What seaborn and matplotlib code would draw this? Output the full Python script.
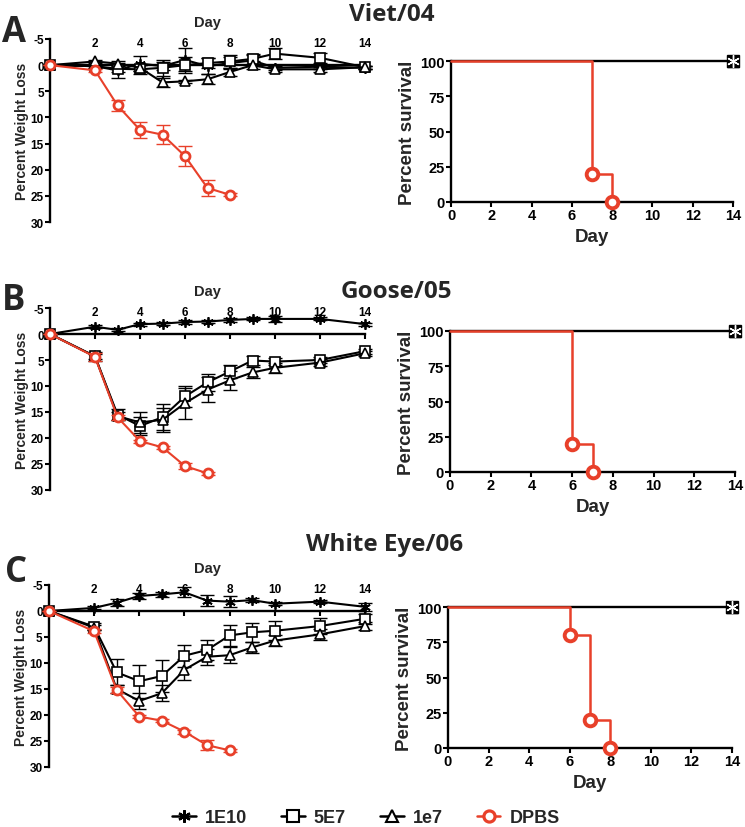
#!/usr/bin/env python3
"""Weight loss and survival after challenge, three virus strains."""

import matplotlib
matplotlib.use("Agg")
import matplotlib.pyplot as plt
from matplotlib.lines import Line2D
import seaborn as sns

sns.set_theme(style="ticks")
plt.rcParams["font.family"] = ["Liberation Sans", "DejaVu Sans"]
plt.rcParams["font.weight"] = "bold"
plt.rcParams["axes.labelweight"] = "bold"
plt.rcParams["axes.unicode_minus"] = False

RED = "#E8402A"
GROUPS = ["1E10", "5E7", "1e7", "DPBS"]
STRAINS = ["Viet/04", "Goose/05", "White Eye/06"]
PANEL_LETTERS = ["A", "B", "C"]

days = [0, 2, 3, 4, 5, 6, 7, 8, 9, 10, 12, 14]

# --- weight loss (percent), mean and error ---
viet_1e10 = [0, 0.2, 1.0, -0.3, 0.2, -1.0, 0.2, -0.4, -0.9, 0.5, 0.3, 0.5]
viet_1e10_err = [0, 0.3, 1.5, 1.4, 0.8, 2.2, 1.5, 1.2, 1.0, 0.4, 0.4, 0.3]
viet_5e7 = [0, 0.2, 0.7, 0.8, 0.5, 0.0, -0.4, -0.7, -1.2, -2.2, -1.4, 0.4]
viet_5e7_err = [0, 0.3, 0.6, 0.8, 1.5, 1.5, 1.0, 1.2, 1.0, 1.0, 1.0, 0.3]
viet_1e7 = [0, -0.7, -0.3, 0.5, 3.3, 3.1, 2.7, 1.3, 0.0, 0.8, 0.8, 0.4]
viet_1e7_err = [0, 0.3, 0.5, 0.6, 0.8, 0.3, 1.0, 0.8, 0.8, 0.5, 0.5, 0.3]
viet_dpbs = [0, 1.0, 7.7, 12.4, 13.3, 17.4, 23.5, 24.8]
viet_dpbs_err = [0, 0.3, 1.0, 1.6, 1.8, 1.9, 1.5, 0.3]

goose_1e10 = [0, -1.4, -0.8, -1.9, -2.0, -2.3, -2.4, -2.7, -2.9, -2.9, -2.9, -1.9]
goose_1e10_err = [0, 0.3, 0.3, 0.3, 0.3, 0.3, 0.3, 0.3, 0.3, 0.5, 0.3, 0.3]
goose_5e7 = [0, 4.3, 15.5, 17.7, 16.0, 12.0, 9.3, 7.2, 5.1, 5.3, 5.0, 3.3]
goose_5e7_err = [0, 0.8, 1.0, 1.8, 2.5, 2.0, 1.6, 1.3, 0.8, 0.7, 0.5, 0.5]
goose_1e7 = [0, 4.3, 15.8, 17.0, 16.5, 13.3, 10.7, 8.9, 7.4, 6.5, 5.5, 3.7]
goose_1e7_err = [0, 0.5, 0.8, 2.0, 2.3, 3.0, 2.4, 1.8, 1.0, 1.0, 0.7, 0.5]
goose_dpbs = [0, 4.4, 16.0, 20.6, 21.8, 25.4, 26.8]
goose_dpbs_err = [0, 0.8, 0.5, 0.3, 0.3, 0.6, 0.3]

white_1e10 = [0, -0.6, -1.6, -2.9, -3.2, -3.6, -2.0, -1.8, -2.1, -1.4, -1.8, -0.8]
white_1e10_err = [0, 0.3, 0.7, 0.5, 0.5, 1.0, 1.0, 1.0, 0.4, 0.3, 0.3, 0.8]
white_5e7 = [0, 3.0, 11.8, 13.5, 12.5, 8.6, 7.5, 4.7, 4.1, 3.8, 2.9, 1.5]
white_5e7_err = [0, 0.6, 2.5, 3.2, 3.0, 2.1, 2.0, 2.1, 1.8, 1.8, 1.5, 1.0]
white_1e7 = [0, 3.2, 15.0, 17.3, 15.8, 11.3, 8.8, 8.5, 7.0, 5.7, 4.5, 2.9]
white_1e7_err = [0, 0.5, 0.8, 1.5, 1.5, 2.0, 1.5, 1.5, 1.0, 1.0, 1.0, 0.8]
white_dpbs = [0, 3.9, 15.2, 20.3, 21.1, 23.2, 25.8, 26.8]
white_dpbs_err = [0, 0.4, 0.6, 0.3, 0.3, 0.4, 0.9, 0.3]

# --- survival (percent) ---
surv_ctrl_days = [0, 14]
surv_ctrl = [100, 100]
viet_surv_days = [0, 7, 8]
viet_surv = [100, 20, 0]
goose_surv_days = [0, 6, 7]
goose_surv = [100, 20, 0]
white_surv_days = [0, 6, 7, 8]
white_surv = [100, 80, 20, 0]

weight_data = [
    [(viet_1e10, viet_1e10_err), (viet_5e7, viet_5e7_err),
     (viet_1e7, viet_1e7_err), (viet_dpbs, viet_dpbs_err)],
    [(goose_1e10, goose_1e10_err), (goose_5e7, goose_5e7_err),
     (goose_1e7, goose_1e7_err), (goose_dpbs, goose_dpbs_err)],
    [(white_1e10, white_1e10_err), (white_5e7, white_5e7_err),
     (white_1e7, white_1e7_err), (white_dpbs, white_dpbs_err)],
]
surv_data = [
    (viet_surv_days, viet_surv),
    (goose_surv_days, goose_surv),
    (white_surv_days, white_surv),
]

STYLE = {
    "1E10": dict(marker=(6, 2, 0), color="black", ms=7.5, mfc="black", mew=1.3),
    "5E7": dict(marker="s", color="black", ms=6.5, mfc="white", mew=1.2),
    "1e7": dict(marker="^", color="black", ms=7, mfc="white", mew=1.2),
    "DPBS": dict(marker="o", color=RED, ms=6.5, mfc="white", mew=2.0),
}

# pixel layout of the reference (745 x 828)
W, H = 745, 828
LEFT_BOX = [(50, 40, 365, 223), (50, 309, 365, 491), (49, 586, 365, 768)]
RIGHT_BOX = [(451, 62, 733, 203), (450, 332, 735, 473), (448, 608, 732, 749)]
TITLE_POS = [(392, 15), (396, 292), (385, 545)]
LETTER_POS = [(14, 33), (14, 301), (16, 573)]


def fig_rect(box):
    x0, y0, x1, y1 = box
    return [x0 / W, 1 - y1 / H, (x1 - x0) / W, (y1 - y0) / H]


def style_axes(ax):
    for side in ("top", "right"):
        ax.spines[side].set_visible(False)
    for side in ("left", "bottom"):
        ax.spines[side].set_linewidth(1.7)
        ax.spines[side].set_color("black")
    ax.tick_params(colors="black", width=1.5, length=3.5, direction="out")
    ax.set_facecolor("white")
    ax.grid(False)


def plot_weight(ax, groups):
    for name, (vals, errs) in zip(GROUPS, groups):
        st = STYLE[name]
        x = days[: len(vals)]
        ax.errorbar(x, vals, yerr=errs, fmt="none", ecolor=st["color"],
                    elinewidth=1.0, capsize=5, capthick=1.0, clip_on=False,
                    zorder=3 if name != "DPBS" else 5)
        sns.lineplot(x=x, y=vals, ax=ax, color=st["color"], linewidth=1.5,
                     marker=st["marker"], markersize=st["ms"],
                     markerfacecolor=st["mfc"], markeredgecolor=st["color"],
                     markeredgewidth=st["mew"], clip_on=False,
                     zorder=4 if name != "DPBS" else 6, legend=False)
    style_axes(ax)
    ax.set_xlim(0, 14)
    ax.set_ylim(30, -5)
    ax.set_yticks(range(-5, 31, 5))
    ax.set_xticks(range(2, 15, 2))
    ax.spines["bottom"].set_position(("data", 0))
    ax.spines["left"].set_bounds(30, -5)
    ax.tick_params(axis="x", bottom=True, top=False, labelbottom=False,
                   labeltop=True, pad=-10.5, labelsize=8.5)
    ax.tick_params(axis="y", labelsize=8.5, pad=1)
    ax.xaxis.set_label_position("top")
    ax.set_xlabel("Day", fontsize=10.5, labelpad=8)
    ax.set_ylabel("Percent Weight Loss", fontsize=10, labelpad=1)


def plot_survival(ax, surv_days, surv):
    sns.lineplot(x=surv_ctrl_days, y=surv_ctrl, ax=ax, color="black",
                 linewidth=1.7, drawstyle="steps-post", legend=False,
                 clip_on=False, zorder=3)
    # censored marks at day 14 for the three vaccine groups, overlapping
    for name, face, edge in [("1e7", "black", "black"),
                             ("5E7", "black", "black"),
                             ("1E10", "white", "white")]:
        st = STYLE[name]
        ax.plot(surv_ctrl_days[-1:], surv_ctrl[-1:], linestyle="none",
                marker=st["marker"], markersize=st["ms"] + 1.5,
                markerfacecolor=face, markeredgecolor=edge,
                markeredgewidth=1.0, clip_on=False, zorder=6)
    sns.lineplot(x=surv_days, y=surv, ax=ax, color=RED, linewidth=1.8,
                 drawstyle="steps-post", legend=False, clip_on=False, zorder=4)
    sns.scatterplot(x=surv_days[1:], y=surv[1:], ax=ax, marker="o", s=70,
                    facecolor="white", edgecolor=RED, linewidth=2.8,
                    clip_on=False, zorder=5, legend=False)
    style_axes(ax)
    ax.set_xlim(0, 14)
    ax.set_ylim(0, 100)
    ax.set_xticks(range(0, 15, 2))
    ax.set_yticks([0, 25, 50, 75, 100])
    ax.tick_params(labelsize=10.5, pad=1)
    ax.set_xlabel("Day", fontsize=13.5, labelpad=4)
    ax.set_ylabel("Percent survival", fontsize=13.5, labelpad=3)


def main() -> None:
    fig = plt.figure(figsize=(W / 100, H / 100), dpi=100)
    fig.patch.set_facecolor("white")
    for i in range(3):
        ax_w = fig.add_axes(fig_rect(LEFT_BOX[i]))
        plot_weight(ax_w, weight_data[i])
        ax_s = fig.add_axes(fig_rect(RIGHT_BOX[i]))
        plot_survival(ax_s, *surv_data[i])
        tx, ty = TITLE_POS[i]
        fig.text(tx / W, 1 - ty / H, STRAINS[i], ha="center", va="center",
                 fontsize=17.5, fontweight="bold", family=["Open Sans", "DejaVu Sans"])
        lx, ly = LETTER_POS[i]
        fig.text(lx / W, 1 - ly / H, PANEL_LETTERS[i], ha="center", va="center",
                 fontsize=25, fontweight="bold", family=["Open Sans", "DejaVu Sans"])

    handles = []
    for name in GROUPS:
        st = STYLE[name]
        handles.append(Line2D([], [], color=st["color"], linewidth=1.8,
                              marker=st["marker"], markersize=st["ms"] + 1.5,
                              markerfacecolor=st["mfc"], markeredgecolor=st["color"],
                              markeredgewidth=st["mew"] + 0.3))
    fig.legend(handles, GROUPS, loc="center", bbox_to_anchor=(366 / W, 1 - 819 / H),
               ncol=4, frameon=False, handlelength=1.3,
               columnspacing=1.9, handletextpad=0.5,
               prop={"weight": "bold", "size": 13})

    fig.savefig("out.png", dpi=100, facecolor="white")
    plt.close(fig)


if __name__ == "__main__":
    main()
